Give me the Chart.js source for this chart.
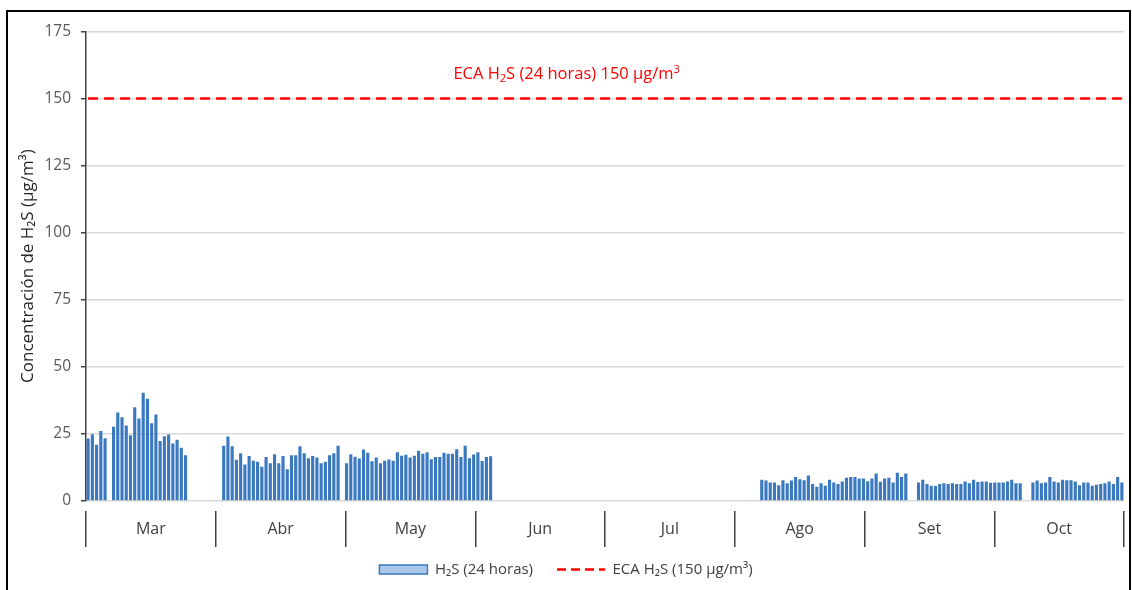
<!DOCTYPE html>
<html>
<head>
<meta charset="utf-8">
<script src="https://cdn.jsdelivr.net/npm/chart.js@4.4.1/dist/chart.umd.min.js"></script>
<style>
  body { margin: 0; background: #fff; overflow: hidden; }
  #frame { position: absolute; left: 6px; top: 10px; width: 1121px; height: 590px;
           border: 2px solid #000; border-bottom: none; }
</style>
</head>
<body>
<div id="frame"><canvas id="chart" width="1121" height="590"></canvas></div>
<script>
// month groups and days per month
var months = ["Mar", "Abr", "May", "Jun", "Jul", "Ago", "Set", "Oct"];
var monthDays = [31, 30, 31, 30, 31, 31, 30, 31];

// daily H2S (24 horas), µg/m3 ; null = no data
var mar = [23.3, 24.9, 21.0, 26.1, 23.4, null, 27.7, 33.0, 31.2, 28.1, 24.5, 34.9, 30.7, 40.3, 38.1, 29.0,
  32.2, 22.4, 24.1, 24.8, 21.4, 22.8, 19.8, 17.0, null, null, null, null, null, null, null];
var abr = [null, 20.6, 24.0, 20.4, 15.4, 17.8, 13.6, 16.8, 15.0, 14.6, 12.8, 16.4, 14.1, 17.4, 14.1, 16.8,
  11.8, 17.0, 17.0, 20.4, 17.8, 15.9, 16.8, 16.2, 14.1, 14.6, 17.0, 17.8, 20.6, null];
var may = [14.1, 17.4, 16.5, 15.8, 19.2, 18.0, 14.8, 16.2, 14.1, 15.0, 15.5, 15.0, 18.2, 16.9, 17.2, 16.2,
  16.9, 18.7, 17.6, 18.2, 15.6, 16.4, 16.4, 18.0, 17.6, 17.6, 19.3, 16.4, 20.6, 15.9, 17.3];
var jun = [18.2, 14.9, 16.4, 16.7, null, null, null, null, null, null, null, null, null, null, null, null,
  null, null, null, null, null, null, null, null, null, null, null, null, null, null];
var jul = [null, null, null, null, null, null, null, null, null, null, null, null, null, null, null, null,
  null, null, null, null, null, null, null, null, null, null, null, null, null, null, null];
var ago = [null, null, null, null, null, null, 7.9, 7.6, 6.9, 6.9, 5.9, 7.7, 6.6, 7.6, 8.9, 8.1,
  7.7, 9.5, 6.3, 5.3, 6.6, 5.7, 7.9, 6.9, 6.3, 7.3, 8.7, 8.9, 8.9, 8.4, 8.4];
var set = [7.4, 8.4, 10.2, 7.2, 8.4, 8.7, 6.9, 10.5, 8.9, 10.2, null, null, 6.9, 7.9, 6.3, 5.7,
  5.6, 6.3, 6.6, 6.3, 6.6, 6.3, 6.3, 7.3, 6.6, 7.9, 7.1, 7.3, 7.3, 6.8];
var oct = [6.9, 6.9, 6.9, 7.3, 7.9, 6.6, 6.6, null, null, 6.9, 7.6, 6.6, 6.9, 8.9, 7.3, 6.9,
  7.9, 7.7, 7.7, 7.3, 5.9, 6.9, 6.9, 5.7, 6.1, 6.3, 6.6, 7.3, 6.3, 8.9, 6.9];

var ecaLimit = 150;
var yTicks = [0, 25, 50, 75, 100, 125, 150, 175];

var h2s = [].concat(mar, abr, may, jun, jul, ago, set, oct);
var dayLabels = [];
months.forEach(function (m, i) {
  for (var d = 1; d <= monthDays[i]; d++) dayLabels.push(d + " " + m);
});
var ecaLine = dayLabels.map(function () { return ecaLimit; });

var FONT = "'Open Sans', 'Liberation Sans', sans-serif";
Chart.defaults.font.family = FONT;
Chart.defaults.color = "#404040";

// red note above the limit line, with sub/superscripts
var ecaNote = {
  id: "ecaNote",
  afterDatasetsDraw: function (chart) {
    var ctx = chart.ctx;
    var y = chart.scales.y.getPixelForValue(ecaLimit) - 24;
    var parts = [
      { t: "ECA H", s: 0 }, { t: "2", s: 1 }, { t: "S (24 horas) 150 µg/m", s: 0 }, { t: "3", s: -1 }
    ];
    ctx.save();
    ctx.fillStyle = "#ff0000";
    ctx.textBaseline = "middle";
    var w = 0;
    parts.forEach(function (p) {
      ctx.font = (p.s ? 11 : 16.5) + "px " + FONT;
      p.w = ctx.measureText(p.t).width;
      w += p.w;
    });
    var x = chart.chartArea.left + chart.chartArea.width * 0.463 - w / 2;
    parts.forEach(function (p) {
      ctx.font = (p.s ? 11 : 16.5) + "px " + FONT;
      ctx.fillText(p.t, x, y + p.s * 4.5);
      x += p.w;
    });
    ctx.restore();
  }
};

new Chart(document.getElementById("chart"), {
  type: "bar",
  data: {
    labels: dayLabels,
    datasets: [
      {
        type: "line",
        label: "ECA H₂S (150 µg/m³)",
        data: ecaLine,
        borderColor: "#ff0000",
        borderWidth: 2.5,
        borderDash: [10, 6],
        pointRadius: 0,
        fill: false,
        order: 0
      },
      {
        label: "H₂S (24 horas)",
        data: h2s,
        backgroundColor: "#3a78bf",
        barPercentage: 0.74,
        categoryPercentage: 1,
        order: 1
      }
    ]
  },
  plugins: [ecaNote],
  options: {
    responsive: false,
    animation: false,
    layout: { padding: { top: 12, right: 5, bottom: 15, left: 0 } },
    scales: {
      x: {
        offset: true,
        grid: { display: false },
        border: { display: false },
        ticks: { display: false },
        afterFit: function (s) { s.height = 10; }
      },
      xm: {
        type: "category",
        labels: months,
        position: "bottom",
        weight: 1,
        offset: true,
        grid: { offset: true, drawOnChartArea: false, drawTicks: true, tickLength: 36, color: "#404040", lineWidth: 1.5 },
        border: { display: false },
        ticks: { padding: -27, color: "#404040", font: { size: 16 } },
        afterFit: function (s) { s.height = 27; }
      },
      y: {
        min: 0,
        max: 175,
        afterBuildTicks: function (s) { s.ticks = yTicks.map(function (v) { return { value: v }; }); },
        grid: { color: "#d9d9d9", lineWidth: 1.5, tickLength: 5, tickColor: "#404040" },
        border: { color: "#404040", width: 1.5 },
        ticks: { padding: 10, color: "#595959", font: { size: 15.5 } },
        title: {
          display: true,
          text: "Concentración de H₂S (µg/m³)",
          color: "#262626",
          font: { size: 17 },
          padding: { top: 10 }
        },
        afterFit: function (s) { s.width = 78; }
      }
    },
    plugins: {
      tooltip: { enabled: false },
      legend: {
        position: "bottom",
        labels: {
          usePointStyle: true,
          pointStyleWidth: 48,
          boxHeight: 9,
          padding: 24,
          color: "#404040",
          font: { size: 15 },
          generateLabels: function (chart) {
            var items = Chart.defaults.plugins.legend.labels.generateLabels(chart);
            items.forEach(function (it) {
              if (it.datasetIndex === 1) {
                it.pointStyle = "rect";
                it.fillStyle = "#a9c8ea";
                it.strokeStyle = "#3a78bf";
                it.lineWidth = 1.5;
                it.lineDash = [];
              } else {
                it.pointStyle = "line";
                it.strokeStyle = "#ff0000";
                it.lineWidth = 2.5;
                it.lineDash = [9, 5];
              }
            });
            return items.reverse();
          }
        }
      }
    }
  }
});
</script>
</body>
</html>
